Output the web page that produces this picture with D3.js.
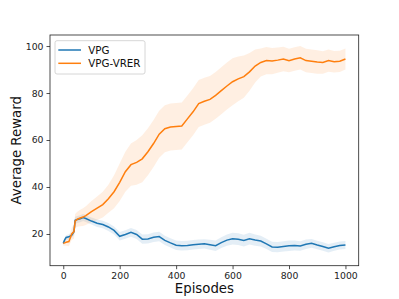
<!DOCTYPE html>
<html><head><meta charset="utf-8">
<script src="https://cdn.jsdelivr.net/npm/d3@7/dist/d3.min.js"></script>
<style>body{margin:0;background:#fff}svg{display:block}text{font-family:"DejaVu Sans",sans-serif}</style>
</head><body>
<script>
const episodes = [0,5,10,20,30,38,42,50,60,70,80,100,120,140,160,180,200,220,240,260,280,300,320,340,360,380,400,420,440,460,480,500,520,540,560,580,600,620,640,660,680,700,720,740,760,780,800,820,840,860,880,900,920,940,960,980,1000];
const vpgMean = [16,17.5,18.5,18.8,19.5,21,25.8,26.2,26.5,27,26.6,25.5,24.6,24,23,21.5,19.0,19.8,20.7,19.8,17.8,17.9,18.6,18.9,17.3,16.2,15.2,15.0,15.1,15.4,15.6,15.8,15.4,15.0,16.3,17.4,18.0,17.8,17.2,18.0,17.4,17.0,15.8,14.5,14.4,14.7,15.0,15.1,14.9,15.6,16.0,15.3,14.7,13.9,14.6,15.1,15.3];
const vpgSpread = [0.8,0.9,1.0,1.1,1.2,1.4,1.5,1.5,1.5,1.5,1.5,1.5,1.6,1.6,1.7,1.7,1.8,1.8,1.9,1.9,2.0,2.0,2.0,2.0,2.0,2.0,2.0,2.0,2.0,2.0,2.0,2.0,2.1,2.2,2.3,2.4,2.5,2.5,2.5,2.5,2.4,2.3,2.2,2.2,2.2,2.2,2.2,2.1,2.0,2.0,1.9,1.8,1.8,1.8,1.7,1.7,1.7];
const vrerMean = [16,16.2,16.5,16.8,20,21,25.5,26.3,26.8,27.2,27.8,29.5,31,32.5,35,38,42,46.5,49.5,50.5,52,55,58.5,62.5,64.8,65.5,65.8,66,69,72,75.5,76.5,77.3,79,81,83,84.8,86,87,89,91.5,93,93.8,93.6,94,94.5,93.8,94.5,95,93.8,93.5,93.2,93,93.8,93.3,93.5,94.5];
const vrerSpread = [1,1.2,1.5,2,2.5,3,3,3.2,3.5,3.8,4,4.5,5,5.5,6,7,8,8.5,9,9.5,10,10,10,10,10,10,10,10,10,10,10,10,10,10,10,10,10,9.5,9,8,7,6,5.8,5.6,5.4,5.2,5,5,5,5,5,5,4.8,4.7,4.6,4.5,4.5];
const xTicks = [0,200,400,600,800,1000];
const yTicks = [20,40,60,80,100];
const seriesNames = ["VPG","VPG-VRER"];
const colors = ["#1f77b4","#ff7f0e"];

const W = 399, H = 299;
const svg = d3.select("body").append("svg").attr("width",W).attr("height",H);
const x = d3.scaleLinear().domain([-47,1047]).range([50,358.7]);
const y = d3.scaleLinear().domain([6.5,104.7]).range([265.7,35]);

const series = [
  {name:seriesNames[0], mean:vpgMean, spread:vpgSpread, color:colors[0], bandOp:0.12},
  {name:seriesNames[1], mean:vrerMean, spread:vrerSpread, color:colors[1], bandOp:0.12}
];
const area = d3.area().x(d=>x(d.e)).y0(d=>y(d.m-d.s)).y1(d=>y(d.m+d.s));
const line = d3.line().x(d=>x(d.e)).y(d=>y(d.m));
series.forEach(s=>{
  s.pts = episodes.map((e,i)=>({e, m:s.mean[i], s:s.spread[i]}));
});
series.forEach(s=>{
  svg.append("path").attr("d",area(s.pts)).attr("fill",s.color).attr("opacity",s.bandOp);
});
series.forEach(s=>{
  svg.append("path").attr("d",line(s.pts)).attr("fill","none").attr("stroke",s.color).attr("stroke-width",1.5);
});

// axes
const xAxis = d3.axisBottom(x).tickValues(xTicks).tickFormat(d3.format("d")).tickSize(3.5).tickPadding(3);
const yAxis = d3.axisLeft(y).tickValues(yTicks).tickFormat(d3.format("d")).tickSize(3.5).tickPadding(3);
const gx = svg.append("g").attr("transform","translate(0,265.7)").call(xAxis);
const gy = svg.append("g").attr("transform","translate(50,0)").call(yAxis);
[gx,gy].forEach(g=>{
  g.select(".domain").remove();
  g.selectAll("line").attr("stroke","#222").attr("stroke-width",0.8);
  g.selectAll("text").attr("font-size","9.3px").attr("fill","#222").style("font-family","DejaVu Sans");
});
// frame
svg.append("rect").attr("x",50).attr("y",35).attr("width",308.7).attr("height",230.7)
  .attr("fill","none").attr("stroke","#222").attr("stroke-width",0.8);

// labels
svg.append("text").attr("x",204.4).attr("y",292.8).attr("text-anchor","middle")
  .attr("font-size","13.3px").attr("fill","#111").text("Episodes");
svg.append("text").attr("transform","translate(21.2,150.3) rotate(-90)").attr("text-anchor","middle")
  .attr("font-size","13.3px").attr("fill","#111").text("Average Reward");

// legend
const lg = svg.append("g");
lg.append("rect").attr("x",55).attr("y",40.7).attr("width",90).attr("height",33.3).attr("rx",2)
  .attr("fill","#fff").attr("fill-opacity",0.8).attr("stroke","#ccc").attr("stroke-width",0.8);
series.forEach((s,i)=>{
  const yy = 50 + i*13.3;
  lg.append("line").attr("x1",58.3).attr("x2",81).attr("y1",yy).attr("y2",yy)
    .attr("stroke",s.color).attr("stroke-width",1.5);
  lg.append("text").attr("x",88.3).attr("y",yy+3.7).attr("font-size","10.3px").attr("fill","#111").text(s.name);
});
</script>
</body></html>
